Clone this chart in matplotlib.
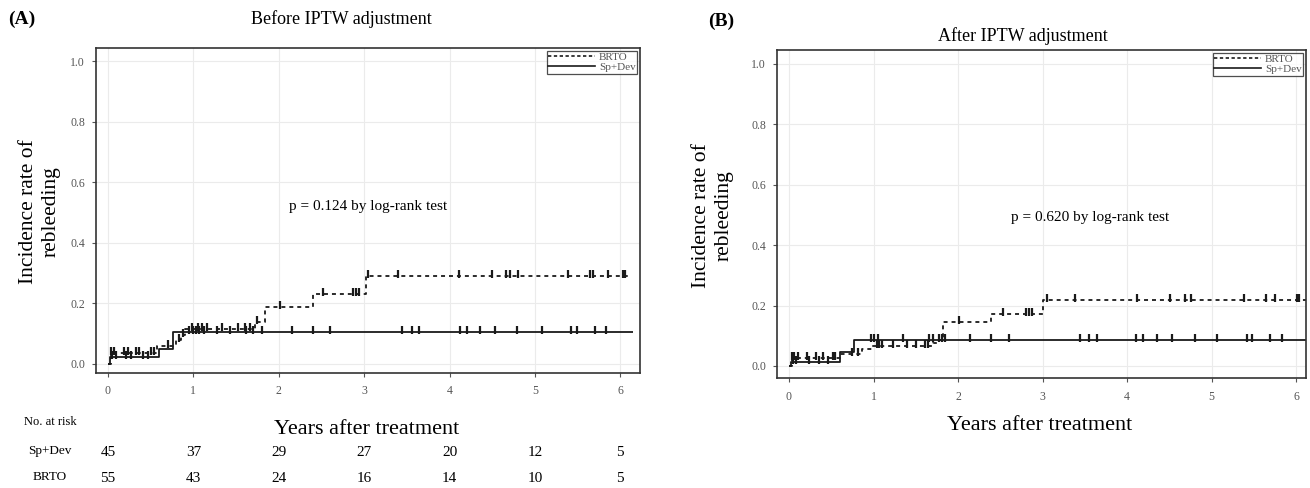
import numpy as np
import matplotlib
matplotlib.use("Agg")
import matplotlib.pyplot as plt
from matplotlib.lines import Line2D

plt.rcParams['font.family'] = ['Liberation Serif', 'DejaVu Serif']

# ---------------- data ----------------
# Panel A (before IPTW)
a_sp_t = [0.0, 0.02, 0.60, 0.76, 6.15]
a_sp_y = [0.0, 0.024, 0.050, 0.107, 0.107]
a_br_t = [0.0, 0.03, 0.58, 0.80, 0.86, 0.90, 1.72, 1.84, 2.40, 3.02, 6.10]
a_br_y = [0.0, 0.035, 0.060, 0.078, 0.095, 0.116, 0.140, 0.187, 0.230, 0.289, 0.289]
a_sp_cens = [0.05, 0.09, 0.21, 0.27, 0.41, 0.47, 0.95, 1.0, 1.03, 1.07, 1.12, 1.28, 1.43, 1.62,
             1.70, 1.80, 2.15, 2.40, 2.60, 3.44, 3.56, 3.64, 4.12, 4.20, 4.36, 4.53, 4.79,
             5.08, 5.42, 5.49, 5.70, 5.83]
a_br_cens = [0.04, 0.07, 0.19, 0.23, 0.33, 0.36, 0.50, 0.54, 0.70, 0.83, 0.88, 0.98, 1.05,
             1.10, 1.16, 1.34, 1.52, 1.60, 1.66, 1.75, 2.02, 2.52, 2.87, 2.91, 2.94, 3.05,
             3.40, 4.11, 4.50, 4.66, 4.71, 4.80, 5.39, 5.64, 5.68, 5.86, 6.03, 6.06]

# Panel B (after IPTW)
b_sp_t = [0.0, 0.02, 0.60, 0.77, 6.12]
b_sp_y = [0.0, 0.013, 0.046, 0.087, 0.087]
b_br_t = [0.0, 0.03, 0.60, 0.86, 0.98, 1.70, 1.78, 1.82, 2.39, 3.00, 6.12]
b_br_y = [0.0, 0.026, 0.040, 0.055, 0.065, 0.075, 0.085, 0.147, 0.173, 0.219, 0.219]
b_sp_cens = [0.05, 0.08, 0.24, 0.36, 0.46, 0.97, 1.01, 1.05, 1.35, 1.66, 1.70, 1.78, 1.81,
             1.85, 2.14, 2.39, 2.60, 3.44, 3.55, 3.64, 4.11, 4.19, 4.35, 4.53, 4.80, 5.06,
             5.42, 5.48, 5.69, 5.83]
b_br_cens = [0.04, 0.06, 0.11, 0.21, 0.32, 0.40, 0.52, 0.55, 0.75, 0.82, 1.04, 1.07, 1.10,
             1.23, 1.40, 1.50, 1.61, 1.65, 2.01, 2.53, 2.81, 2.84, 2.88, 3.05, 3.39, 4.12,
             4.51, 4.69, 4.76, 5.39, 5.64, 5.75, 6.01, 6.04]

risk_times = [0, 1, 2, 3, 4, 5, 6]
risk_sp = [45, 37, 29, 27, 20, 12, 5]
risk_br = [55, 43, 24, 16, 14, 10, 5]

W, H = 1310, 488
fig = plt.figure(figsize=(W / 100, H / 100), dpi=100)

def fx(px):
    return px / W

def fy(py):
    return 1 - py / H

tick_marker = [(0, -0.3), (0, 1.0)]
line_col = '#1a1a1a'


def step_val(ts, ys, t):
    i = np.searchsorted(ts, t, side='right') - 1
    return np.asarray(ys)[i]


def panel(rect, xlim, ylim, sp_t, sp_y, br_t, br_y, sp_c, br_c, ptext, ppos):
    ax = fig.add_axes(rect)
    ax.set_xlim(*xlim)
    ax.set_ylim(*ylim)
    ax.grid(True, color='#ebebeb', lw=0.8)
    ax.set_axisbelow(True)
    for s in ax.spines.values():
        s.set_color('#333333')
        s.set_linewidth(1.2)
    ax.set_xticks(range(0, 7))
    ax.set_yticks([0, 0.2, 0.4, 0.6, 0.8, 1.0])
    ax.set_yticklabels(['0.0', '0.2', '0.4', '0.6', '0.8', '1.0'])
    ax.tick_params(colors='#555555', labelsize=8.5, length=3, width=0.8)
    ax.tick_params(axis='y', pad=5)
    ax.tick_params(axis='x', pad=6)
    ax.step(sp_t, sp_y, where='post', color=line_col, lw=1.3, solid_capstyle='butt')
    ax.step(br_t, br_y, where='post', color=line_col, lw=1.3, ls=(0, (2.2, 2.2)))
    spc = np.array(sp_c)
    brc = np.array(br_c)
    ax.plot(spc, step_val(sp_t, sp_y, spc), ls='none', marker=tick_marker,
            ms=8, mew=1.6, color=line_col)
    ax.plot(brc, step_val(br_t, br_y, brc), ls='none', marker=tick_marker,
            ms=8, mew=1.6, color=line_col)
    ax.text(ppos[0], ppos[1], ptext, ha='center', va='center', fontsize=11)
    handles = [Line2D([], [], color=line_col, lw=1.2, ls=(0, (2, 1.5))),
               Line2D([], [], color=line_col, lw=1.2)]
    leg = ax.legend(handles, ['BRTO', 'Sp+Dev'], loc='upper right', fontsize=8,
                    frameon=True, fancybox=False, edgecolor='#222222', borderpad=0.15,
                    handlelength=4.2, handletextpad=0.35, labelspacing=0.0,
                    borderaxespad=0.25, labelcolor='#555555')
    leg.get_frame().set_linewidth(0.9)
    return ax

axA = panel([fx(96), fy(373), fx(640) - fx(96), fy(48) - fy(373)],
            (-0.14, 6.23), (-0.03, 1.043),
            a_sp_t, a_sp_y, a_br_t, a_br_y, a_sp_cens, a_br_cens,
            'p = 0.124 by log-rank test', (3.05, 0.52))
axB = panel([fx(777), fy(378), fx(1306) - fx(777), fy(50) - fy(378)],
            (-0.142, 6.118), (-0.04, 1.046),
            b_sp_t, b_sp_y, b_br_t, b_br_y, b_sp_cens, b_br_cens,
            'p = 0.620 by log-rank test', (3.56, 0.49))

# titles and labels
fig.text(fx(8), fy(19), '(A)', fontsize=14, fontweight='bold', ha='left', va='center')
fig.text(fx(341), fy(19), 'Before IPTW adjustment', fontsize=13, ha='center', va='center')
fig.text(fx(708), fy(21), '(B)', fontsize=14, fontweight='bold', ha='left', va='center')
fig.text(fx(1023), fy(36), 'After IPTW adjustment', fontsize=13, ha='center', va='center')

fig.text(fx(40), fy(212), 'Incidence rate of\nrebleeding', rotation=90, fontsize=15.5,
         ha='center', va='center', multialignment='center', linespacing=1.3)
fig.text(fx(713), fy(216), 'Incidence rate of\nrebleeding', rotation=90, fontsize=15.5,
         ha='center', va='center', multialignment='center', linespacing=1.3)

fig.text(fx(367), fy(430), 'Years after treatment', fontsize=16, ha='center', va='center')
fig.text(fx(1040), fy(425), 'Years after treatment', fontsize=16, ha='center', va='center')

# risk table (panel A)
fig.text(fx(50), fy(422), 'No. at risk', fontsize=9, ha='center', va='center')
fig.text(fx(50), fy(451), 'Sp+Dev', fontsize=9.5, ha='center', va='center')
fig.text(fx(50), fy(477), 'BRTO', fontsize=9.5, ha='center', va='center')
trans = matplotlib.transforms.blended_transform_factory(axA.transData, fig.transFigure)
for t, n in zip(risk_times, risk_sp):
    fig.text(t, fy(452), str(n), transform=trans, fontsize=11, ha='center', va='center')
for t, n in zip(risk_times, risk_br):
    fig.text(t, fy(478), str(n), transform=trans, fontsize=11, ha='center', va='center')

fig.savefig('out.png', dpi=100)
